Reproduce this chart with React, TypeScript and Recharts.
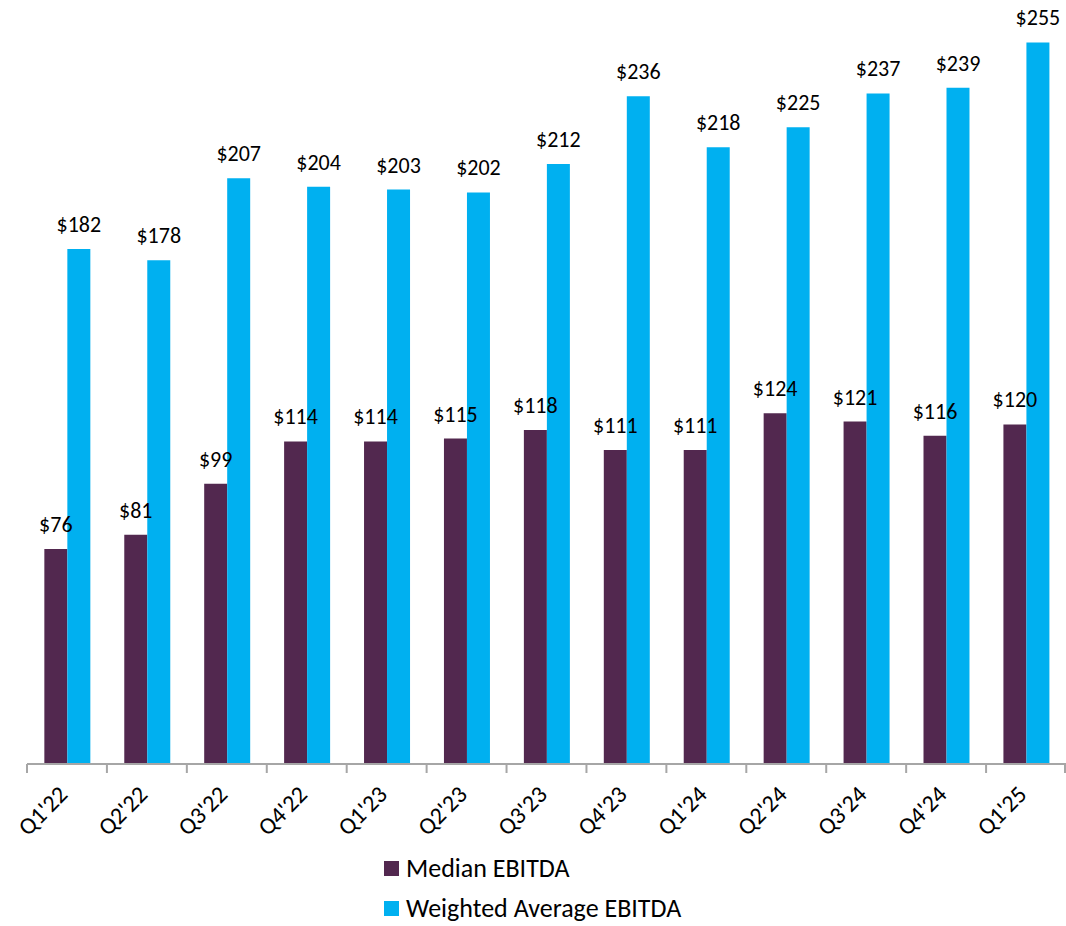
import { BarChart, Bar, XAxis, YAxis, LabelList } from 'recharts';

const quarters = ["Q1'22", "Q2'22", "Q3'22", "Q4'22", "Q1'23", "Q2'23", "Q3'23", "Q4'23", "Q1'24", "Q2'24", "Q3'24", "Q4'24", "Q1'25"];
const medianEbitda = [76, 81, 99, 114, 114, 115, 118, 111, 111, 124, 121, 116, 120];
const weightedEbitda = [182, 178, 207, 204, 203, 202, 212, 236, 218, 225, 237, 239, 255];

const W = 1066;
const H = 926;
const LEFT = 27;
const FONT = 'Carlito, Calibri, "Open Sans", sans-serif';
const MEDIAN_COLOR = '#52284f';
const WEIGHTED_COLOR = '#00b0f0';

const data = quarters.map((q, i) => ({ q, median: medianEbitda[i], weighted: weightedEbitda[i] }));

function QuarterTick(props: any) {
  const { x, y, payload, index } = props;
  const band = (W - LEFT) / quarters.length;
  const tx = x + 2;
  const ty = y + 32;
  return (
    <g>
      <line x1={x - band / 2} x2={x - band / 2} y1={y} y2={y + 9} stroke="#a6a6a6" strokeWidth={2} />
      {index === quarters.length - 1 && (
        <line x1={x + band / 2 - 1} x2={x + band / 2 - 1} y1={y} y2={y + 9} stroke="#a6a6a6" strokeWidth={2} />
      )}
      <text
        x={tx}
        y={ty}
        textAnchor="end"
        transform={`rotate(-45, ${tx}, ${ty})`}
        fontSize={24}
        fontFamily={FONT}
        fill="#000"
      >
        {payload.value}
      </text>
    </g>
  );
}

function Legend() {
  const items = [
    { name: 'Median EBITDA', color: MEDIAN_COLOR },
    { name: 'Weighted Average EBITDA', color: WEIGHTED_COLOR },
  ];
  return (
    <div style={{ position: 'absolute', left: 384, top: 848, fontFamily: FONT, fontSize: 26, lineHeight: '30px', color: '#000' }}>
      {items.map((it) => (
        <div key={it.name} style={{ display: 'flex', alignItems: 'center', height: 40 }}>
          <span style={{ display: 'inline-block', width: 15, height: 15, background: it.color, marginRight: 7 }} />
          <span>{it.name}</span>
        </div>
      ))}
    </div>
  );
}

export default function App() {
  return (
    <div style={{ position: 'absolute', left: 0, top: 0, width: W, height: H, background: '#fff', overflow: 'hidden' }}>
      <BarChart
        width={W}
        height={H}
        data={data}
        margin={{ top: 0, right: 0, bottom: 0, left: LEFT }}
        barCategoryGap="21.7%"
        barGap={0}
      >
        <XAxis
          dataKey="q"
          height={162}
          axisLine={{ stroke: '#a6a6a6', strokeWidth: 2 }}
          tickLine={false}
          tickSize={0}
          tickMargin={0}
          interval={0}
          tick={<QuarterTick />}
        />
        <YAxis hide domain={[0, 270]} />
        <Bar dataKey="median" fill={MEDIAN_COLOR} isAnimationActive={false}>
          <LabelList
            dataKey="median"
            position="top"
            offset={17}
            formatter={(v: any) => `$${v}`}
            style={{ fontSize: 22, fontFamily: FONT, fill: '#000' }}
          />
        </Bar>
        <Bar dataKey="weighted" fill={WEIGHTED_COLOR} isAnimationActive={false}>
          <LabelList
            dataKey="weighted"
            position="top"
            offset={17}
            formatter={(v: any) => `$${v}`}
            style={{ fontSize: 22, fontFamily: FONT, fill: '#000' }}
          />
        </Bar>
      </BarChart>
      <Legend />
    </div>
  );
}
